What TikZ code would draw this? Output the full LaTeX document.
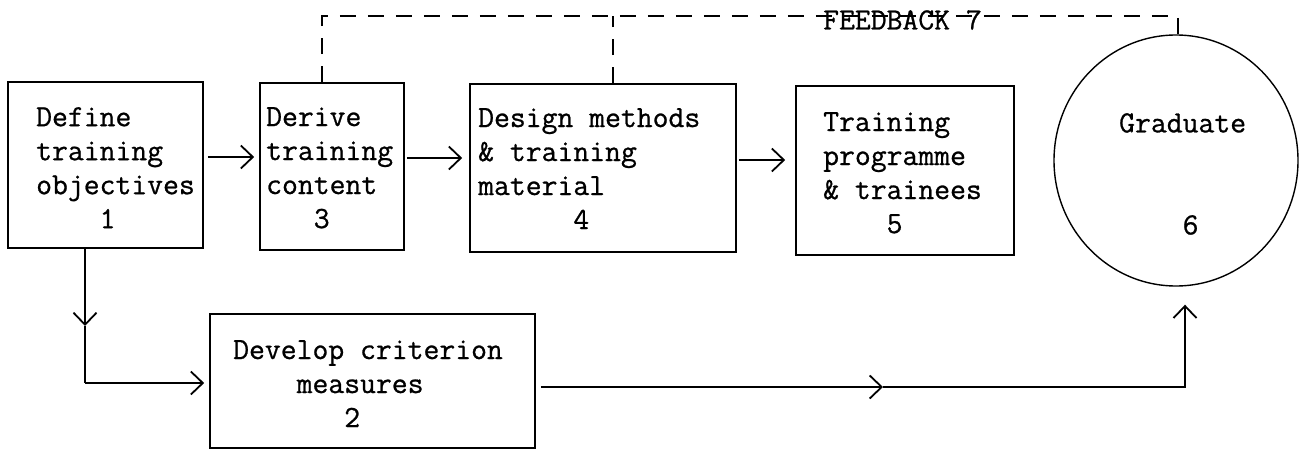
\documentclass[tikz,border=0pt]{standalone}
\usepackage{fontspec}
\newfontfamily\typewriter{Latin Modern Mono}[FakeBold=0.8]
\usetikzlibrary{arrows.meta,shapes.geometric,calc}
\begin{document}
\begin{tikzpicture}[x=1pt,y=-1pt,
  box/.style={draw, rectangle, line width=1.7pt, inner sep=0pt},
  oval/.style={draw, ellipse, line width=1.4pt, inner sep=0pt},
  txt/.style={font=\typewriter\fontsize{30.8}{34}\selectfont, align=left, inner sep=0pt, anchor=north west},
  conn/.style={line width=1.5pt},
  arr/.style={conn, -{Straight Barb[length=12pt,width=23pt,line width=1.8pt]}},
  fb/.style={line width=1.4pt, dash pattern=on 16pt off 12pt}]

\useasboundingbox (0,0) rectangle (1306,455);

% process boxes and the graduate circle
\node[box, minimum width=195pt, minimum height=166pt] (b1) at (105.5,165) {};
\node[box, minimum width=144pt, minimum height=167pt] (b3) at (332,166.5) {};
\node[box, minimum width=266pt, minimum height=168pt] (b4) at (603,168) {};
\node[box, minimum width=218pt, minimum height=169pt] (b5) at (905,170.5) {};
\node[box, minimum width=325pt, minimum height=134pt] (b2) at (372.5,381) {};
\node[oval, minimum width=244pt, minimum height=251pt] (g) at (1176,160.5) {};

% typed labels
\node[txt] (t1) at (36,107) {Define\\training\\objectives\\\phantom{0000}1};
\node[txt] (t3) at (266,107) {Derive\\training\\content\\\phantom{000}3};
\node[txt] (t4) at (478,108) {Design methods\\\& training\\material\\\phantom{000000}4};
\node[txt] (t5) at (823,112) {Training\\programme\\\& trainees\\\phantom{0000}5};
\node[txt] (t2) at (233,340) {Develop criterion\\\phantom{0000}measures\\\phantom{0000000}2};
\node[txt] (tg) at (1119,113) {Graduate\\\mbox{}\\\mbox{}\\\phantom{0000}6};

% feedback loop
\coordinate (f1) at (322,16);
\coordinate (f2) at (613,16);
\coordinate (f3) at (1178,16);
\draw[fb] (b3.north -| f1) -- (f1) -- (f3) -- (f3 |- g.north);
\draw[fb] (b4.north -| f2) -- (f2);
\node[txt] (tf) at (823,10) {FEEDBACK 7};

% main flow
\draw[arr, shorten <=4pt, shorten >=5pt] ([yshift=8pt]b1.east) -- ([yshift=8pt]b1.east -| b3.west);
\draw[arr, shorten <=2pt, shorten >=7pt] ([yshift=8.5pt]b3.east) -- ([yshift=8.5pt]b3.east -| b4.west);
\draw[arr, shorten <=2pt, shorten >=10pt] ([yshift=8pt]b4.east) -- ([yshift=8pt]b4.east -| b5.west);

% criterion branch
\coordinate (k1m) at (85,326);
\coordinate (k1) at (85,383);
\draw[arr] (b1.south -| k1) -- (k1m);
\draw[conn] (k1m) -- (k1);
\draw[arr, shorten >=5pt] (k1) -- (k1 -| b2.west);

\coordinate (k2m) at (883,387);
\coordinate (k2) at (1185,387);
\draw[arr, shorten <=5pt] (b2.east |- k2) -- (k2m);
\draw[arr, shorten >=18pt] (k2m) -- (k2) -- (k2 |- g.south);
\end{tikzpicture}
\end{document}
